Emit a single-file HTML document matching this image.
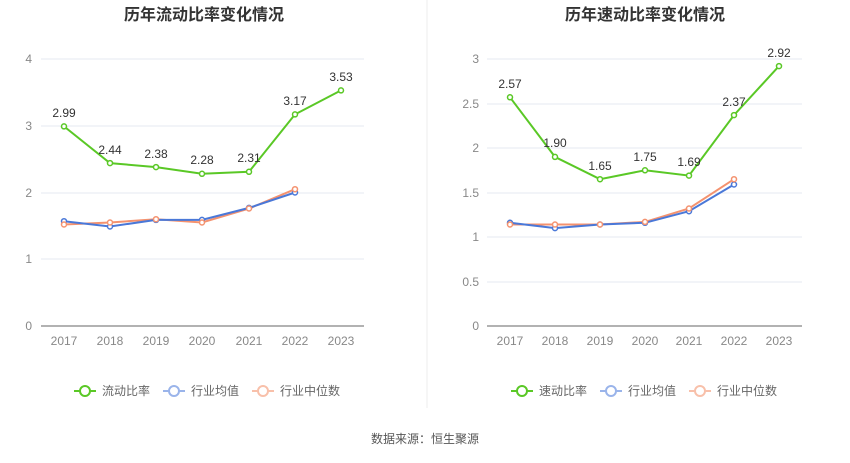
<!DOCTYPE html>
<html><head><meta charset="utf-8"><style>
body{margin:0;background:#fff;}
svg text{font-family:"Liberation Sans","Noto Sans CJK SC",sans-serif;}
</style></head><body>
<svg width="850" height="458" viewBox="0 0 850 458" xmlns="http://www.w3.org/2000/svg">
<rect width="850" height="458" fill="#fff"/>
<line x1="427" y1="0" x2="427" y2="408" stroke="#eee" stroke-width="1"/>
<!-- titles -->
<text x="204" y="20" font-size="16" font-weight="bold" text-anchor="middle" fill="#333">历年流动比率变化情况</text>
<text x="645" y="20" font-size="16" font-weight="bold" text-anchor="middle" fill="#333">历年速动比率变化情况</text>
<!-- left grid -->
<g stroke="#e6e8f0" stroke-width="1">
<line x1="41" y1="59" x2="364" y2="59"/><line x1="41" y1="126" x2="364" y2="126"/><line x1="41" y1="193" x2="364" y2="193"/><line x1="41" y1="259" x2="364" y2="259"/>
<line x1="487" y1="59" x2="802" y2="59"/><line x1="487" y1="104" x2="802" y2="104"/><line x1="487" y1="148" x2="802" y2="148"/><line x1="487" y1="193" x2="802" y2="193"/><line x1="487" y1="237" x2="802" y2="237"/><line x1="487" y1="282" x2="802" y2="282"/>
</g>
<line x1="41" y1="326" x2="364" y2="326" stroke="#666"/>
<line x1="487" y1="326" x2="802" y2="326" stroke="#666"/>
<g font-size="12" fill="#888" text-anchor="end">
<text x="32" y="330">0</text><text x="32" y="263">1</text><text x="32" y="197">2</text><text x="32" y="130">3</text><text x="32" y="63">4</text>
<text x="479" y="330">0</text><text x="479" y="286">0.5</text><text x="479" y="241">1</text><text x="479" y="197">1.5</text><text x="479" y="152">2</text><text x="479" y="108">2.5</text><text x="479" y="63">3</text>
</g>
<g font-size="12" fill="#888" text-anchor="middle">
<text x="64" y="345">2017</text><text x="110" y="345">2018</text><text x="156" y="345">2019</text><text x="202" y="345">2020</text><text x="249" y="345">2021</text><text x="295" y="345">2022</text><text x="341" y="345">2023</text>
<text x="510" y="345">2017</text><text x="555" y="345">2018</text><text x="600" y="345">2019</text><text x="645" y="345">2020</text><text x="689" y="345">2021</text><text x="734" y="345">2022</text><text x="779" y="345">2023</text>
</g>
<g fill="#fff" stroke-width="2">
<polyline fill="none" stroke="#f4926f" points="64,224.5 110,222.5 156,219.2 202,222.5 249,208.5 295,189.2"/>
<polyline fill="none" stroke="#4a78d8" points="64,221.2 110,226.5 156,219.9 202,219.9 249,207.9 295,192.5"/>
<polyline fill="none" stroke="#5ac826" points="64,126.4 110,163.1 156,167.1 202,173.8 249,171.8 295,114.4 341,90.4"/>
<polyline fill="none" stroke="#f4926f" points="510,224.5 555,224.5 600,224.5 645,221.9 689,208.5 734,179.2"/>
<polyline fill="none" stroke="#4a78d8" points="510,222.8 555,228.1 600,224.5 645,222.8 689,211.2 734,184.5"/>
<polyline fill="none" stroke="#5ac826" points="510,97.3 555,156.9 600,179.2 645,170.3 689,175.6 734,115.1 779,66.1"/>
<g stroke="#4a78d8" stroke-width="1.5"><circle cx="64" cy="221.2" r="2.5"/><circle cx="110" cy="226.5" r="2.5"/><circle cx="156" cy="219.9" r="2.5"/><circle cx="202" cy="219.9" r="2.5"/><circle cx="249" cy="207.9" r="2.5"/><circle cx="295" cy="192.5" r="2.5"/>
<circle cx="510" cy="222.8" r="2.5"/><circle cx="555" cy="228.1" r="2.5"/><circle cx="600" cy="224.5" r="2.5"/><circle cx="645" cy="222.8" r="2.5"/><circle cx="689" cy="211.2" r="2.5"/><circle cx="734" cy="184.5" r="2.5"/></g>
<g stroke="#f4926f" stroke-width="1.5"><circle cx="64" cy="224.5" r="2.5"/><circle cx="110" cy="222.5" r="2.5"/><circle cx="156" cy="219.2" r="2.5"/><circle cx="202" cy="222.5" r="2.5"/><circle cx="249" cy="208.5" r="2.5"/><circle cx="295" cy="189.2" r="2.5"/>
<circle cx="510" cy="224.5" r="2.5"/><circle cx="555" cy="224.5" r="2.5"/><circle cx="600" cy="224.5" r="2.5"/><circle cx="645" cy="221.9" r="2.5"/><circle cx="689" cy="208.5" r="2.5"/><circle cx="734" cy="179.2" r="2.5"/></g>
<g stroke="#5ac826" stroke-width="1.5"><circle cx="64" cy="126.4" r="2.5"/><circle cx="110" cy="163.1" r="2.5"/><circle cx="156" cy="167.1" r="2.5"/><circle cx="202" cy="173.8" r="2.5"/><circle cx="249" cy="171.8" r="2.5"/><circle cx="295" cy="114.4" r="2.5"/><circle cx="341" cy="90.4" r="2.5"/>
<circle cx="510" cy="97.3" r="2.5"/><circle cx="555" cy="156.9" r="2.5"/><circle cx="600" cy="179.2" r="2.5"/><circle cx="645" cy="170.3" r="2.5"/><circle cx="689" cy="175.6" r="2.5"/><circle cx="734" cy="115.1" r="2.5"/><circle cx="779" cy="66.1" r="2.5"/></g>
</g>
<g font-size="12" fill="#333" text-anchor="middle">
<text x="64" y="117">2.99</text><text x="110" y="154">2.44</text><text x="156" y="158">2.38</text><text x="202" y="164">2.28</text><text x="249" y="162">2.31</text><text x="295" y="105">3.17</text><text x="341" y="81">3.53</text>
<text x="510" y="88">2.57</text><text x="555" y="147">1.90</text><text x="600" y="170">1.65</text><text x="645" y="161">1.75</text><text x="689" y="166">1.69</text><text x="734" y="106">2.37</text><text x="779" y="57">2.92</text>
</g>
<!-- legends -->
<g font-size="12" fill="#666" stroke-width="2">
<line x1="74" y1="391" x2="96" y2="391" stroke="#5ac826"/><circle cx="85" cy="391" r="5" fill="#fff" stroke="#5ac826"/><text x="102" y="395" stroke="none">流动比率</text>
<line x1="163" y1="391" x2="185" y2="391" stroke="#9ab4ea"/><circle cx="174" cy="391" r="5" fill="#fff" stroke="#9ab4ea"/><text x="191" y="395" stroke="none">行业均值</text>
<line x1="252" y1="391" x2="274" y2="391" stroke="#f8c0aa"/><circle cx="263" cy="391" r="5" fill="#fff" stroke="#f8c0aa"/><text x="280" y="395" stroke="none">行业中位数</text>
<line x1="511" y1="391" x2="533" y2="391" stroke="#5ac826"/><circle cx="522" cy="391" r="5" fill="#fff" stroke="#5ac826"/><text x="539" y="395" stroke="none">速动比率</text>
<line x1="600" y1="391" x2="622" y2="391" stroke="#9ab4ea"/><circle cx="611" cy="391" r="5" fill="#fff" stroke="#9ab4ea"/><text x="628" y="395" stroke="none">行业均值</text>
<line x1="689" y1="391" x2="711" y2="391" stroke="#f8c0aa"/><circle cx="700" cy="391" r="5" fill="#fff" stroke="#f8c0aa"/><text x="717" y="395" stroke="none">行业中位数</text>
</g>
<text x="425" y="443" font-size="12" fill="#555" text-anchor="middle">数据来源：恒生聚源</text>
</svg>
</body></html>
